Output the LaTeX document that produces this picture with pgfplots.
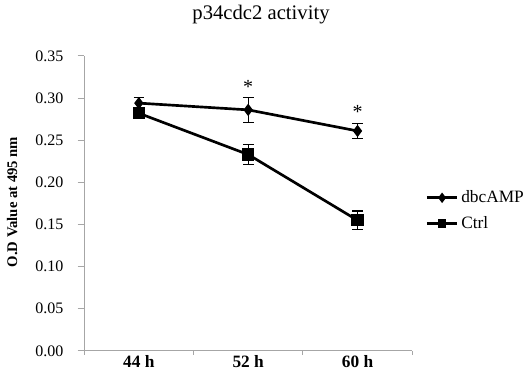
\documentclass[border=0pt]{standalone}
\usepackage{pgfplots}
\pgfplotsset{compat=1.18}
\usepackage{fontspec}
\setmainfont{Liberation Serif}
\begin{document}
\begin{tikzpicture}[x=0.75pt,y=0.75pt]
\useasboundingbox (0,0) rectangle (527,372);
\node[font=\fontsize{15.5}{18}\selectfont] at (261,357) {p34cdc2 activity};
\begin{axis}[
  at={(77,25)}, anchor=south west,
  scale only axis, width=246pt, height=221.25pt,
  xmin=-0.5, xmax=2.5, ymin=0, ymax=0.35,
  axis lines=left, axis line style={draw=gray!70, -, line width=0.8pt},
  tick align=outside,
  xtick={0,1,2}, xticklabels={44 h,52 h,60 h},
  major x tick style={draw=none},
  minor xtick={-0.5,0.5,1.5,2.5},
  minor tick length=3pt,
  minor x tick style={draw=gray!70, line width=0.8pt},
  ytick={0,0.05,...,0.36},
  major tick length=5pt,
  y tick style={draw=gray!70, line width=0.8pt},
  yticklabel style={/pgf/number format/fixed, /pgf/number format/fixed zerofill, /pgf/number format/precision=2, font=\fontsize{12}{14}\selectfont, xshift=-7pt},
  /pgf/number format/assume math mode=true,
  xticklabel style={font=\bfseries\fontsize{13}{15}\selectfont, yshift=5pt},
  ylabel={O.D Value at 495 nm},
  ylabel style={font=\bfseries\fontsize{11}{12}\selectfont, at={(axis description cs:-0.22,0.505)}, anchor=center},
  clip=false,
  legend style={draw=none, fill=none, at={(1.04,0.475)}, anchor=west, font=\fontsize{13}{16}\selectfont, row sep=5pt, inner sep=0pt},
  legend image code/.code={\draw[mark repeat=2,mark phase=2,#1, mark size=2.3pt] plot coordinates {(0cm,0cm) (0.4cm,0cm) (0.8cm,0cm)};},
  legend cell align=left,
]
\addplot[black, line width=2pt, mark=diamond*, mark size=3pt,
  error bars/.cd, y dir=both, y explicit, error bar style={line width=0.8pt}, error mark options={rotate=90, mark size=4pt, line width=0.8pt}]
  coordinates {(0,0.294) +- (0,0.007) (1,0.286) +- (0,0.015) (2,0.261) +- (0,0.009)};
\addlegendentry{dbcAMP}
\addplot[black, line width=2pt, mark=square*, mark size=3.6pt,
  error bars/.cd, y dir=both, y explicit, error bar style={line width=0.8pt}, error mark options={rotate=90, mark size=4pt, line width=0.8pt}]
  coordinates {(0,0.282) +- (0,0.004) (1,0.233) +- (0,0.012) (2,0.155) +- (0,0.011)};
\addlegendentry{Ctrl}
\node[font=\fontsize{15}{15}\selectfont] at (axis cs:1,0.313) {*};
\node[font=\fontsize{15}{15}\selectfont] at (axis cs:2,0.283) {*};
\end{axis}
\end{tikzpicture}
\end{document}
